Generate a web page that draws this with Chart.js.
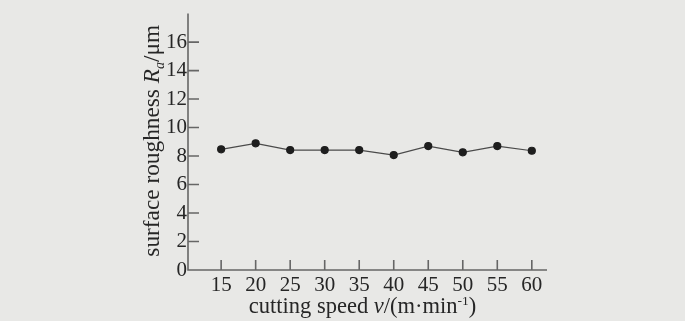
<!DOCTYPE html>
<html>
<head>
<meta charset="utf-8">
<script src="https://cdn.jsdelivr.net/npm/chart.js@4/dist/chart.umd.min.js"></script>
<style>
  html, body { margin: 0; padding: 0; background: #e8e8e6; }
  #wrap { width: 685px; height: 321px; }
</style>
</head>
<body>
<div id="wrap"><canvas id="c" width="685" height="321"></canvas></div>
<script>
const speeds = [15, 20, 25, 30, 35, 40, 45, 50, 55, 60];
const roughness = [8.47, 8.89, 8.42, 8.42, 8.42, 8.07, 8.70, 8.26, 8.70, 8.37];
const yTicks = [0, 2, 4, 6, 8, 10, 12, 14, 16];

const ink = '#262626';
const axisGray = '#666666';
const serif = '"Liberation Serif", "Times New Roman", serif';

// mixed-style text runs: [text, italic, shift]
const yTitle = [['surface roughness ', false, 0], ['R', true, 0], ['a', true, 5], ['/μm', false, 0]];
const xTitle = [['cutting speed ', false, 0], ['v', true, 0], ['/(m·min', false, 0], ['-1', false, -8], [')', false, 0]];

function runFont(r, size) {
  const s = r[2] !== 0 ? size * 0.6 : size;
  return (r[1] ? 'italic ' : '') + s + 'px ' + serif;
}

function drawRuns(ctx, runs, size) {
  let w = 0;
  runs.forEach(r => { ctx.font = runFont(r, size); w += ctx.measureText(r[0]).width; });
  let x = -w / 2;
  runs.forEach(r => {
    ctx.font = runFont(r, size);
    ctx.fillText(r[0], x, r[2]);
    x += ctx.measureText(r[0]).width;
  });
}

const paperPlugin = {
  id: 'paper',
  beforeDraw(chart) {
    const ctx = chart.ctx;
    ctx.save();
    ctx.fillStyle = '#e8e8e6';
    ctx.fillRect(0, 0, chart.width, chart.height);
    ctx.restore();
  },
  afterDraw(chart) {
    const ctx = chart.ctx;
    const xs = chart.scales.x, ys = chart.scales.y;
    const y0 = ys.getPixelForValue(0);
    const x0 = xs.left;
    ctx.save();
    ctx.strokeStyle = axisGray;
    ctx.lineWidth = 1.6;
    ctx.beginPath();
    ctx.moveTo(x0, ys.top);
    ctx.lineTo(x0, y0);
    ctx.lineTo(xs.right, y0);
    // inward ticks
    yTicks.forEach(v => {
      if (v === 0) return;
      const p = ys.getPixelForValue(v);
      ctx.moveTo(x0, p);
      ctx.lineTo(x0 + 11, p);
    });
    speeds.forEach(v => {
      const p = xs.getPixelForValue(v);
      ctx.moveTo(p, y0);
      ctx.lineTo(p, y0 - 10);
    });
    ctx.stroke();

    ctx.fillStyle = ink;
    ctx.textBaseline = 'alphabetic';
    ctx.save();
    ctx.translate(159, (ys.top + y0) / 2 - 1);
    ctx.rotate(-Math.PI / 2);
    drawRuns(ctx, yTitle, 23.3);
    ctx.restore();
    ctx.save();
    ctx.translate((xs.left + xs.right) / 2 - 5, 313);
    drawRuns(ctx, xTitle, 22.5);
    ctx.restore();
    ctx.restore();
  }
};

new Chart(document.getElementById('c'), {
  type: 'line',
  plugins: [paperPlugin],
  data: {
    datasets: [
      {
        data: speeds.map((x, i) => ({ x, y: roughness[i] })),
        borderColor: '#4a4a4a',
        borderWidth: 1.2,
        pointBackgroundColor: '#1e1e1e',
        pointBorderColor: '#1e1e1e',
        pointRadius: 3.5,
        tension: 0,
      },
    ]
  },
  options: {
    responsive: false,
    animation: false,
    layout: {
      padding: { top: 10, left: 0, right: 138, bottom: 0 }
    },
    scales: {
      x: {
        type: 'linear',
        min: 10.2,
        max: 62.2,
        afterBuildTicks: (scale) => { scale.ticks = speeds.map(v => ({ value: v })); },
        afterFit: (scale) => { scale.height = 51; },
        border: { display: false },
        grid: { display: false, drawTicks: false },
        ticks: {
          color: ink,
          font: { family: serif, size: 21 },
          padding: 3,
          maxRotation: 0,
          autoSkip: false,
        },
      },
      y: {
        min: 0,
        max: 18,
        afterBuildTicks: (scale) => { scale.ticks = yTicks.map(v => ({ value: v })); },
        afterFit: (scale) => { scale.width = 188; },
        border: { display: false },
        grid: { display: false, drawTicks: false },
        ticks: {
          color: ink,
          font: { family: serif, size: 21 },
          padding: 1,
        },
      },
    },
    plugins: {
      legend: { display: false },
      tooltip: { enabled: false },
    },
  },
});
</script>
</body>
</html>
